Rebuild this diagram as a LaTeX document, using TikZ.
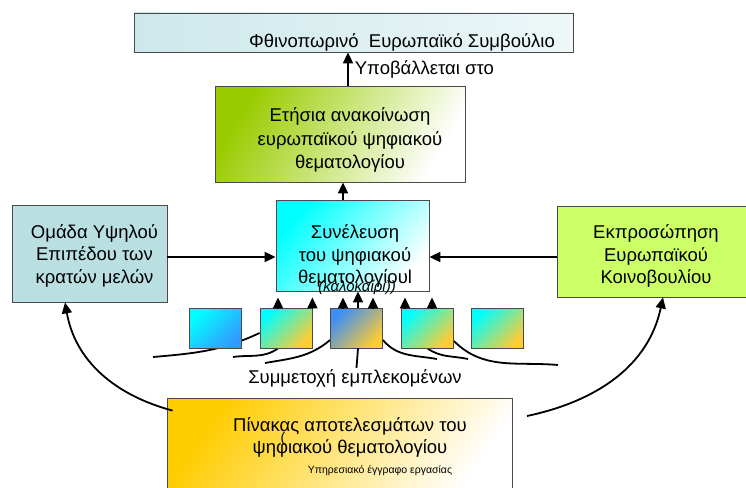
\documentclass[tikz,border=0pt]{standalone}
\usepackage{fontspec}
\setmainfont{Liberation Sans}
\usepackage{tikz}
\usetikzlibrary{arrows.meta,backgrounds}

\definecolor{boxline}{HTML}{4A4A4A}
\definecolor{eucoL}{HTML}{CDE8EB}
\definecolor{eucoR}{HTML}{EDF7F8}
\definecolor{annGreen}{HTML}{99CC00}
\definecolor{grpTeal}{HTML}{B9DFE1}
\definecolor{epLime}{HTML}{CCFF66}
\definecolor{meetCyan}{HTML}{00FFFF}
\definecolor{tileBlue}{HTML}{3399FF}
\definecolor{tileDeep}{HTML}{3D8EF5}
\definecolor{tileGrey}{HTML}{B5ADB2}
\definecolor{tileMid}{HTML}{DDF5E8}
\definecolor{tileGold}{HTML}{FFCC33}
\definecolor{resGold}{HTML}{FFCC00}
\definecolor{resMid}{HTML}{FFEDA8}

\begin{document}
\begin{tikzpicture}[x=1pt,y=-1pt,
		box/.style={draw=boxline,line width=0.8pt,inner sep=0pt},
		txt/.style={align=center,inner sep=1pt,font=\fontsize{18.5}{22.5}\selectfont},
		tile/.style={box,minimum width=52pt,minimum height=40pt,shading angle=45},
		arr/.style={line width=1.8pt,-{Triangle[length=11pt,width=10pt]}},
		fan/.style={line width=1.8pt}]
		\useasboundingbox (0,0) rectangle (746,487);

		\path (353.5,32.5) node[box,left color=eucoL,right color=eucoR,minimum width=439pt,minimum height=39pt] (euco) {}
		(402,42) node[txt] (eucotext) {Φθινοπωρινό\ \ Ευρωπαϊκό Συμβούλιο}
		(340,134) node[box,top color=annGreen,bottom color=white,shading angle=60,minimum width=250pt,minimum height=96pt] (ann) {}
		(350,140) node[txt,font=\fontsize{18.5}{23.5}\selectfont] (anntext) {Ετήσια ανακοίνωση\\ευρωπαϊκού ψηφιακού\\θεματολογίου}
		(89.5,253.5) node[box,fill=grpTeal,minimum width=155pt,minimum height=97pt] (grp) {}
		(94.5,255.5) node[txt] (grptext) {Ομάδα Υψηλού\\Επιπέδου των\\κρατών μελών}
		(352.5,245.5) node[box,top color=meetCyan,bottom color=white,shading angle=50,minimum width=153pt,minimum height=91pt] (meet) {}
		(355,256) node[txt] (meettext) {Συνέλευση\\του ψηφιακού\\θεματολογίουl}
		(357,287) node[inner sep=0pt,font=\fontsize{15}{15}\selectfont\itshape] (summer) {(καλοκαίρι))}
		(651.5,251.5) node[box,fill=epLime,minimum width=189pt,minimum height=91pt] (ep) {}
		(656,256) node[txt] (eptext) {Εκπροσώπηση\\Ευρωπαϊκού\\Κοινοβουλίου}
		(215.5,328) node[tile,top color=meetCyan,bottom color=tileBlue,shading angle=45] (sb1) {}
		(286,328) node[tile,top color=meetCyan,middle color=tileMid,bottom color=tileGold,shading angle=45] (sb2) {}
		(356.5,328) node[tile,top color=tileDeep,middle color=tileGrey,bottom color=tileGold,shading angle=45] (sb3) {}
		(427.5,328) node[tile,top color=meetCyan,middle color=tileMid,bottom color=tileGold,shading angle=45] (sb4) {}
		(497.5,328) node[tile,top color=meetCyan,middle color=tileMid,bottom color=tileGold,shading angle=45] (sb5) {}
		(355,378) node[txt] (part) {Συμμετοχή εμπλεκομένων}
		(339.5,449) node[box,top color=resGold,middle color=resMid,bottom color=white,shading angle=55,minimum width=345pt,minimum height=102pt] (res) {}
		(350,437) node[txt,font=\fontsize{18.5}{22}\selectfont] (restext) {Πίνακας αποτελεσμάτων του\\ψηφιακού θεματολογίου}
		(283,439) node[inner sep=0pt,font=\fontsize{14}{14}\selectfont] (resparen) {(}
		(380,471) node[txt,font=\fontsize{10.5}{12}\selectfont] (resnote) {Υπηρεσιακό έγγραφο εργασίας};

		\coordinate (f1) at (153,357);
		\coordinate (f2) at (233,357);
		\coordinate (f3) at (265,363);
		\coordinate (f4) at (437,359);
		\coordinate (f5) at (468,359);
		\coordinate (f6) at (558,365);
		\coordinate (r0) at (527,416);

		\draw[arr] ([xshift=8pt]ann.north) -- ([xshift=8pt]ann.north |- euco.south)
		node[right=5pt,midway,txt] (submit) {Υποβάλλεται στο};
		\draw[arr] ([xshift=-9.5pt]meet.north) -- ([xshift=-9.5pt]meet.north |- ann.south);
		\draw[arr] ([yshift=-3.5pt]grp.east) -- ([yshift=-3.5pt]grp.east -| meet.west);
		\draw[arr] ([yshift=-5.5pt]ep.west) -- ([yshift=-5.5pt]ep.west -| meet.east);

		\draw[arr,shorten >=6pt] ([xshift=-8pt]sb2.north) -- ([xshift=-8pt]sb2.north |- meet.south);
		\draw[arr,shorten >=6pt] (sb2.north east) -- (sb2.north east |- meet.south);
		\draw[arr,shorten >=6pt] ([xshift=-13.5pt]sb3.north) -- ([xshift=-13.5pt]sb3.north |- meet.south);
		\draw[arr] ([xshift=1.5pt]sb3.north) -- ([xshift=1.5pt]sb3.north |- meet.south);
		\draw[arr,shorten >=6pt] ([xshift=16.5pt]sb3.north) -- ([xshift=16.5pt]sb3.north |- meet.south);
		\draw[arr,shorten >=6pt] ([xshift=-22.5pt]sb4.north) -- ([xshift=-22.5pt]sb4.north |- meet.south);
		\draw[arr,shorten >=6pt] ([xshift=4.5pt]sb4.north) -- ([xshift=4.5pt]sb4.north |- meet.south);
		\draw[fan] ([xshift=1.5pt]part.north) -- ([xshift=1.5pt]sb3.south);

		\begin{scope}[on background layer]
		\draw[fan] (f1) to[out=5,in=205] ([yshift=-5pt]sb2.west);
		\draw[fan] (f2) to[out=8,in=215] ([xshift=-8pt]sb2.south);
		\draw[fan] (f3) to[out=10,in=220] ([yshift=-12pt]sb3.west);
		\draw[fan] ([yshift=-12pt]sb3.east) to[out=-50,in=170] (f4);
		\draw[fan] (sb4.south) to[out=-35,in=168] (f5);
		\draw[fan] ([yshift=-13pt]sb4.east) to[out=-45,in=175] (f6);
		\end{scope}

		\draw[arr] ([xshift=6pt,yshift=-13pt]res.north west) to[out=165,in=-80] ([xshift=-24.5pt]grp.south);
		\draw[arr] (r0) to[out=12,in=-102] ([xshift=11.5pt]ep.south);
	\end{tikzpicture}
\end{document}
